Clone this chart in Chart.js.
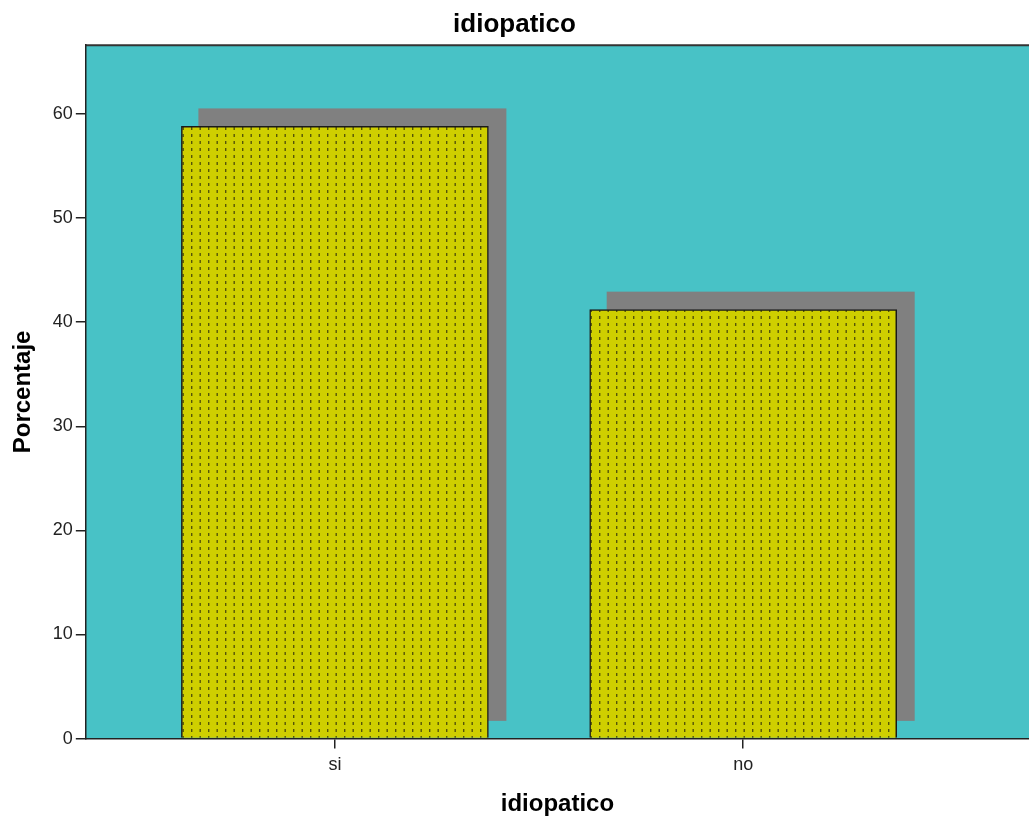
<!DOCTYPE html>
<html lang="es">
<head>
<meta charset="UTF-8">
<title>idiopatico</title>
<script src="https://cdn.jsdelivr.net/npm/chart.js@4.4.0/dist/chart.umd.min.js"></script>
<style>
  html, body { margin: 0; padding: 0; background: #fff; }
</style>
</head>
<body>
<canvas id="grafico" width="1029" height="819"></canvas>
<script>
// datos
const categorias = ['si', 'no'];
const porcentajes = [58.8, 41.2];
const ticksY = [0, 10, 20, 30, 40, 50, 60];

const fuente = "'Liberation Sans', Arial, sans-serif";
Chart.defaults.font.family = fuente;

// trama de puntitos verticales para las barras
function trama() {
    const c = document.createElement('canvas');
    c.width = 17; c.height = 7;
    const g = c.getContext('2d');
    g.fillStyle = '#cfcf00';
    g.fillRect(0, 0, 17, 7);
    g.fillStyle = '#555508';
    g.fillRect(4, 1, 1.4, 3);
    g.fillRect(12.5, 1, 1.4, 3);
    return g.createPattern(c, 'repeat');
}

// fondo del area y linea superior
const fondo = {
    id: 'fondo',
    beforeDraw(chart) {
        const { ctx, chartArea: a } = chart;
        ctx.save();
        ctx.fillStyle = '#48c2c6';
        ctx.fillRect(a.left, a.top, a.right - a.left, a.bottom - a.top);
        ctx.strokeStyle = '#333';
        ctx.lineWidth = 2;
        ctx.beginPath();
        ctx.moveTo(a.left, a.top);
        ctx.lineTo(a.right, a.top);
        ctx.stroke();
        ctx.restore();
    }
};

// sombra gris desplazada detras de cada barra
const sombra = {
    id: 'sombra',
    beforeDatasetsDraw(chart) {
        const ctx = chart.ctx;
        ctx.save();
        ctx.fillStyle = '#808080';
        chart.getDatasetMeta(0).data.forEach(bar => {
            const p = bar.getProps(['x', 'y', 'base', 'width'], true);
            ctx.fillRect(p.x - p.width / 2 + 17, p.y - 18, p.width + 1, p.base - p.y + 1);
        });
        ctx.restore();
    }
};

const ctx = document.getElementById('grafico').getContext('2d');
new Chart(ctx, {
    type: 'bar',
    data: {
        datasets: [{
            data: porcentajes.map((v, i) => ({ x: i + 1, y: v })),
            backgroundColor: trama(),
            borderColor: '#1a1a1a',
            borderWidth: 1.5,
            barThickness: 307
        }]
    },
    options: {
        responsive: false,
        animation: false,
        layout: { padding: 0 },
        plugins: {
            legend: { display: false },
            tooltip: { enabled: false },
            title: {
                display: true,
                text: 'idiopatico',
                color: '#000',
                font: { size: 26, weight: 'bold' },
                padding: { top: 9, bottom: 5 }
            }
        },
        scales: {
            x: {
                type: 'linear',
                min: 0.39,
                max: 2.7,
                offset: false,
                afterBuildTicks: s => { s.ticks = categorias.map((c, i) => ({ value: i + 1 })); },
                ticks: {
                    callback: v => categorias[v - 1] ?? '',
                    color: '#222',
                    font: { size: 18 },
                    padding: 6
                },
                grid: { offset: false, drawOnChartArea: false, tickLength: 10, color: '#222', lineWidth: 1.5 },
                border: { color: '#222', width: 1.5 },
                title: {
                    display: true,
                    text: 'idiopatico',
                    color: '#000',
                    font: { size: 24, weight: 'bold' },
                    padding: { top: 8, bottom: 0 }
                }
            },
            y: {
                min: 0,
                max: 66.6,
                afterBuildTicks: s => { s.ticks = ticksY.map(v => ({ value: v })); },
                ticks: { color: '#222', font: { size: 18 }, padding: 3 },
                grid: { drawOnChartArea: false, tickLength: 10, color: '#222', lineWidth: 1.5 },
                border: { color: '#222', width: 1.5 },
                title: {
                    display: true,
                    text: 'Porcentaje',
                    color: '#000',
                    font: { size: 24, weight: 'bold' },
                    padding: { top: 9, bottom: 12 }
                }
            }
        }
    },
    plugins: [fondo, sombra]
});
</script>
</body>
</html>
